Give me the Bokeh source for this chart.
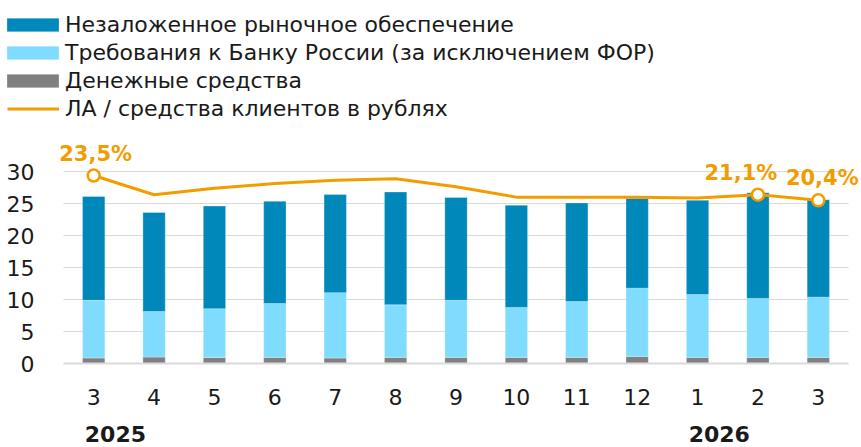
from bokeh.plotting import figure
from bokeh.models import (Range1d, LinearAxis, FixedTicker, Legend, LegendItem,
                          ColumnDataSource, LabelSet, Grid)
from bokeh.core.properties import value
from bokeh.embed import file_html
from bokeh.resources import INLINE

# ---------------- data ----------------
months = ["3", "4", "5", "6", "7", "8", "9", "10", "11", "12", "1", "2", "3"]
years = ["2025", "2026"]
year_first_index = [0, 10]

cash = [0.9, 1.05, 1.0, 1.0, 0.9, 1.0, 1.0, 1.0, 1.0, 1.15, 1.0, 1.0, 1.0]
cbr_claims = [9.0, 7.1, 7.6, 8.4, 10.2, 8.2, 8.9, 7.8, 8.7, 10.65, 9.8, 9.2, 9.4]
unencumbered = [16.2, 15.45, 16.0, 15.95, 15.3, 17.6, 16.05, 15.95, 15.4, 14.0, 14.7, 16.5, 15.2]
la_ratio = [23.5, 21.1, 21.9, 22.5, 22.9, 23.1, 22.1, 20.8, 20.8, 20.8, 20.7, 21.1, 20.4]
labeled_points = [0, 11, 12]
y_ticks = [0, 5, 10, 15, 20, 25, 30]

names = ["Незаложенное рыночное обеспечение",
         "Требования к Банку России (за исключением ФОР)",
         "Денежные средства",
         "ЛА / средства клиентов в рублях"]

# ---------------- styles ----------------
C_DARK = "#0088BB"
C_LIGHT = "#80DCFF"
C_GRAY = "#808080"
C_ORANGE = "#F39C00"
FONT = "DejaVu Sans"
TXT = "#1a1a1a"
label_dx = [2, -17, 4]

W, H = 861, 447
N = len(months)
PX_X = 60.385          # px per category
PX_Y = 6.41            # px per unit
X0_PX, Y0_PX = 63, 363.3
x_range = Range1d(-X0_PX / PX_X, N + (W - X0_PX - N * PX_X) / PX_X)
y_start, y_end = -(H - Y0_PX) / PX_Y, Y0_PX / PX_Y
y_range = Range1d(y_start, y_end)
pct_range = Range1d(y_start * 24 / 30, y_end * 24 / 30)

x = [i + 0.5 for i in range(N)]

src = ColumnDataSource(dict(x=x, cash=cash, claims=cbr_claims, unenc=unencumbered, ratio=la_ratio))

p = figure(width=W, height=H, output_backend="svg", toolbar_location=None,
           x_range=x_range, y_range=y_range, x_axis_location=None, y_axis_location=None,
           min_border_left=0, min_border_right=0, min_border_top=0, min_border_bottom=0)
p.extra_y_ranges = {"pct": pct_range}
p.outline_line_color = None
p.background_fill_color = "white"
p.border_fill_color = "white"

bars = p.vbar_stack(["cash", "claims", "unenc"], x="x", width=0.37, source=src,
                    color=[C_GRAY, C_LIGHT, C_DARK], line_color="white", line_alpha=0.35, line_width=0.8)

ln = p.line("x", "ratio", source=src, y_range_name="pct", line_color=C_ORANGE, line_width=3)

lbl = ColumnDataSource(dict(x=[x[i] for i in labeled_points],
                            y=[la_ratio[i] for i in labeled_points],
                            t=[("%.1f%%" % la_ratio[i]).replace(".", ",") for i in labeled_points],
                            dx=label_dx))
p.scatter("x", "y", source=lbl, y_range_name="pct", size=12, fill_color="white",
          line_color=C_ORANGE, line_width=2.5)
p.add_layout(LabelSet(x="x", y="y", text="t", source=lbl, y_range_name="pct",
                      x_offset="dx", y_offset=15, text_align="center",
                      text_baseline="alphabetic", text_color=C_ORANGE,
                      text_font=value(FONT), text_font_size=value("21px"),
                      text_font_style="bold"))

# grid
p.xgrid.grid_line_color = None
p.ygrid.grid_line_color = None
g = Grid(dimension=1, ticker=FixedTicker(ticks=y_ticks[1:]), grid_line_color="#D9D9D9",
         grid_line_width=1, cross_bounds=(0, N))
p.add_layout(g)

# y axis inside the frame at x = 0
yax = LinearAxis(fixed_location=0, ticker=FixedTicker(ticks=y_ticks),
                 axis_line_color=None, major_tick_line_color=None, minor_tick_line_color=None,
                 major_label_standoff=23, major_label_text_font=FONT,
                 major_label_text_font_size="22px", major_label_text_color=TXT)
p.add_layout(yax, "left")

# month axis at y = 0
xa = LinearAxis(fixed_location=0, ticker=FixedTicker(ticks=x), bounds=(0, N),
                major_label_overrides={xv: m for xv, m in zip(x, months)},
                axis_line_color="#DADADA", axis_line_width=2,
                major_tick_line_color=None, minor_tick_line_color=None,
                major_label_standoff=19, major_label_text_font=FONT,
                major_label_text_font_size="22px", major_label_text_color=TXT)
p.add_layout(xa, "below")

# year axis
year_x = [x[i] + 0.36 for i in year_first_index]
ya = LinearAxis(fixed_location=0, ticker=FixedTicker(ticks=year_x),
                major_label_overrides={xv: y for xv, y in zip(year_x, years)},
                axis_line_color=None, major_tick_line_color=None, minor_tick_line_color=None,
                major_label_standoff=56, major_label_text_font=FONT,
                major_label_text_font_size="22px", major_label_text_font_style="bold",
                major_label_text_color=TXT)
p.add_layout(ya, "below")

# legends
leg1 = Legend(items=[LegendItem(label=names[0], renderers=[bars[2]]),
                     LegendItem(label=names[1], renderers=[bars[1]]),
                     LegendItem(label=names[2], renderers=[bars[0]])],
              location=(0, 354), glyph_width=65, glyph_height=17, label_standoff=0,
              spacing=3, padding=0, margin=0, label_height=20,
              label_text_font=FONT, label_text_font_size="22px", label_text_color=TXT,
              border_line_color=None, background_fill_alpha=0)
leg2 = Legend(items=[LegendItem(label=names[3], renderers=[ln])],
              location=(7, 326), glyph_width=52, glyph_height=17, label_standoff=6,
              spacing=3, padding=0, margin=0, label_height=20,
              label_text_font=FONT, label_text_font_size="22px", label_text_color=TXT,
              border_line_color=None, background_fill_alpha=0)
p.add_layout(leg1)
p.add_layout(leg2)

open("out.html", "w").write(file_html(p, INLINE))
